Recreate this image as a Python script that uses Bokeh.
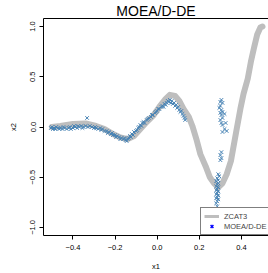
from bokeh.plotting import figure
from bokeh.models import Range1d, FixedTicker, Legend, LegendItem, LinearAxis
from bokeh.embed import file_html
from bokeh.resources import INLINE

# ---- data ----
title_text = "MOEA/D-DE"
series_names = ["ZCAT3", "MOEA/D-DE"]

pf_x = [-0.50, -0.46, -0.40, -0.34, -0.29, -0.25, -0.21, -0.18, -0.14, -0.11, -0.08, -0.05,
        -0.02, 0.01, 0.04, 0.06, 0.085, 0.105, 0.125, 0.15, 0.167, 0.186, 0.205, 0.23, 0.25,
        0.27, 0.29, 0.31, 0.33, 0.35, 0.375, 0.395, 0.41, 0.43, 0.445, 0.46, 0.475, 0.49, 0.50]
pf_y = [0.00, 0.01, 0.03, 0.035, 0.01, -0.02, -0.07, -0.10, -0.12, -0.09, -0.02, 0.05,
        0.11, 0.20, 0.28, 0.32, 0.31, 0.26, 0.18, 0.10, 0.01, -0.12, -0.27, -0.39, -0.50,
        -0.56, -0.60, -0.56, -0.47, -0.34, -0.05, 0.18, 0.33, 0.48, 0.65, 0.79, 0.92, 0.99, 1.00]

moead_x = [-0.505, -0.50, -0.495, -0.49, -0.485, -0.48, -0.47, -0.465, -0.46, -0.45, -0.445, -0.44,
           -0.43, -0.42, -0.415, -0.41, -0.40, -0.395, -0.39, -0.38, -0.375, -0.37, -0.36, -0.355,
           -0.35, -0.34, -0.333, -0.33, -0.32, -0.31, -0.30, -0.295, -0.29, -0.28, -0.27, -0.265,
           -0.26, -0.25, -0.24, -0.235, -0.23, -0.22, -0.215, -0.21, -0.20, -0.195, -0.19, -0.18,
           -0.175, -0.17, -0.16, -0.155, -0.15, -0.145, -0.14,
           -0.135, -0.13, -0.125, -0.12, -0.115, -0.11, -0.10, -0.095, -0.09, -0.085, -0.08, -0.075,
           -0.07, -0.065, -0.06, -0.05, -0.045, -0.04, -0.03, -0.025, -0.02, -0.01, -0.005, 0.00,
           0.005, 0.01, 0.02, 0.025, 0.03, 0.035, 0.04, 0.045, 0.05, 0.055, 0.06, 0.065, 0.07,
           0.075, 0.08, 0.085, 0.09, 0.095, 0.10, 0.105, 0.11, 0.115, 0.12, 0.125, 0.13, 0.133,
           0.305, 0.30, 0.31, 0.30, 0.295, 0.305, 0.31, 0.30, 0.32, 0.305, 0.31, 0.30, 0.305, 0.325,
           0.31, 0.32, 0.31, 0.33, 0.305, 0.30, 0.305, 0.30, 0.29, 0.295, 0.285, 0.29, 0.28, 0.29,
           0.285, 0.28, 0.29, 0.285, 0.28, 0.29, 0.285, 0.28, 0.29, 0.285, 0.28, 0.29, 0.285, 0.28,
           0.285]
moead_y = [-0.01, 0.00, -0.02, -0.01, -0.02, 0.00, -0.01, -0.02, -0.01, -0.02, 0.00, -0.01,
           -0.02, -0.01, 0.00, -0.02, -0.01, 0.01, 0.00, -0.01, 0.01, 0.00, 0.01, -0.01,
           0.00, 0.01, 0.09, 0.00, 0.01, 0.00, -0.01, 0.00, -0.01, -0.02, -0.01, -0.03,
           -0.02, -0.04, -0.04, -0.06, -0.05, -0.07, -0.06, -0.08, -0.08, -0.10, -0.09, -0.10,
           -0.12, -0.11, -0.12, -0.11, -0.13, -0.14, -0.12,
           -0.11, -0.09, -0.10, -0.07, -0.08, -0.05, -0.04, -0.03, -0.01, 0.00, 0.02, 0.01,
           0.04, 0.05, 0.04, 0.07, 0.08, 0.09, 0.10, 0.12, 0.12, 0.14, 0.15, 0.16,
           0.18, 0.18, 0.20, 0.21, 0.20, 0.23, 0.22, 0.24, 0.26, 0.25, 0.27, 0.24, 0.26,
           0.23, 0.24, 0.21, 0.22, 0.19, 0.20, 0.17, 0.15, 0.16, 0.13, 0.11, 0.09, 0.07,
           0.27, 0.25, 0.24, 0.21, 0.19, 0.17, 0.15, 0.14, 0.13, 0.12, 0.09, 0.07, 0.04, 0.04,
           0.02, -0.02, -0.05, -0.04, -0.25, -0.28, -0.31, -0.33, -0.47, -0.49, -0.51, -0.53, -0.54, -0.56,
           -0.57, -0.59, -0.60, -0.62, -0.63, -0.64, -0.66, -0.67, -0.68, -0.70, -0.71, -0.72, -0.74, -0.76,
           -0.79]

x_ticks = [-0.4, -0.2, 0, 0.2, 0.4]
x_tick_labels = ["\u22120.4", "\u22120.2", "0.0", "0.2", "0.4"]
y_ticks = [-1, -0.5, 0, 0.5, 1]
y_tick_labels = ["\u22121.0", "\u22120.5", "0.0", "0.5", "1.0"]

FONT = "Liberation Sans"

p = figure(width=268, height=273, output_backend="svg", toolbar_location=None,
           x_range=Range1d(-0.54, 0.5286), y_range=Range1d(-1.08, 1.08),
           min_border_left=43, min_border_right=0, min_border_top=0, min_border_bottom=36,
           title=title_text)
p.title.text_font = FONT
p.title.text_font_size = "14px"
p.title.text_font_style = "normal"
p.title.text_color = "black"
p.title.align = "center"
p.title.offset = 1
p.title.standoff = 0
p.xgrid.visible = False
p.ygrid.visible = False
p.outline_line_color = None
p.background_fill_color = "white"
p.border_fill_color = "white"

for ax, ticks, labels, lab in [(p.xaxis[0], x_ticks, x_tick_labels, "x1"),
                               (p.yaxis[0], y_ticks, y_tick_labels, "x2")]:
    ax.ticker = FixedTicker(ticks=ticks)
    ax.major_label_overrides = {t: l for t, l in zip(ticks, labels)}
    ax.axis_line_color = "black"
    ax.axis_line_width = 1
    ax.major_tick_line_color = "black"
    ax.major_tick_out = 4
    ax.major_tick_in = 0
    ax.minor_tick_line_color = None
    ax.major_label_text_font = FONT
    ax.major_label_text_font_size = "7.5px"
    ax.major_label_text_color = "black"
    ax.axis_label = lab
    ax.axis_label_text_font = FONT
    ax.axis_label_text_font_size = "7.5px"
    ax.axis_label_text_font_style = "normal"
    ax.axis_label_text_color = "black"

p.xaxis[0].major_label_standoff = 5
p.xaxis[0].axis_label_standoff = 9
p.yaxis[0].major_label_orientation = "parallel"
p.yaxis[0].major_label_standoff = 4
p.yaxis[0].axis_label_standoff = 10

top_axis = LinearAxis(ticker=FixedTicker(ticks=[]), major_label_text_font_size="0px",
                      major_tick_line_color=None, minor_tick_line_color=None,
                      major_tick_out=0, major_label_standoff=0,
                      axis_line_color="black")
p.add_layout(top_axis, "above")

p.line(pf_x, pf_y, line_color="#bebebe", line_width=6, line_join="round", line_cap="round")
p.scatter(moead_x, moead_y, marker="x", size=5, line_color="#4682b4", line_width=1)

# legend-only renderers placed outside the visible range
leg_line = p.line([10, 11], [10, 10], line_color="#bebebe", line_width=3)
leg_pts = p.scatter([10], [10], marker="x", size=5, line_color="blue", line_width=1.5)

legend = Legend(items=[LegendItem(label=series_names[0], renderers=[leg_line]),
                       LegendItem(label=series_names[1], renderers=[leg_pts])],
                location=(157, 0), orientation="vertical",
                border_line_color="black", border_line_width=1,
                background_fill_color="white", background_fill_alpha=1,
                label_text_font=FONT, label_text_font_size="7.5px",
                glyph_width=15, glyph_height=10, label_height=10, label_width=60,
                label_standoff=5, padding=3, spacing=0, margin=0)
p.add_layout(legend, "center")

open("out.html", "w").write(file_html(p, INLINE))
